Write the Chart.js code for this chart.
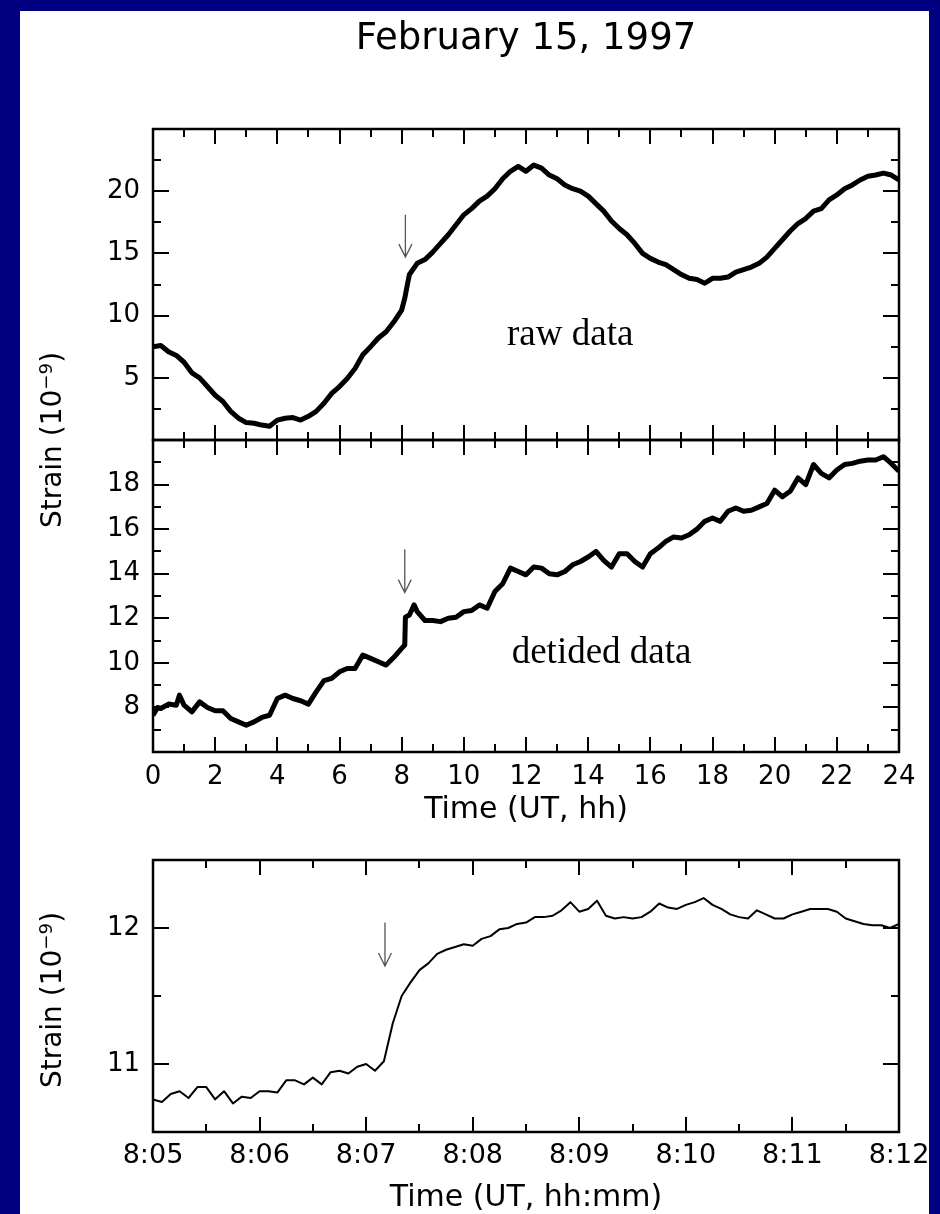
<!DOCTYPE html>
<html>
<head>
<meta charset="utf-8">
<title>February 15, 1997 - strain</title>
<script src="https://cdn.jsdelivr.net/npm/chart.js@4.4.1/dist/chart.umd.min.js"></script>
<style>
  html, body { margin: 0; padding: 0; }
  body {
    width: 940px; height: 1214px; position: relative; overflow: hidden;
    background: #000080; font-family: "DejaVu Sans", sans-serif; color: #000;
  }
  #sheet { position: absolute; left: 20px; top: 11px; width: 909px; height: 1203px; background: #fff; }
  canvas { position: absolute; left: 0; }
  .txt { position: absolute; line-height: 1; white-space: nowrap; text-align: center; }
  .ytitle {
    position: absolute; width: 400px; height: 28px; line-height: 28px; font-size: 28px;
    text-align: center; white-space: nowrap; transform: rotate(-90deg);
  }
  sup { font-size: 0.65em; line-height: 0; vertical-align: 0.5em; }
</style>
</head>
<body>
<div id="sheet"></div>
<canvas id="rawChart" width="940" height="460" style="top:0px"></canvas>
<canvas id="detidedChart" width="940" height="380" style="top:420px"></canvas>
<canvas id="zoomChart" width="940" height="374" style="top:840px"></canvas>

<div class="txt" style="left:176px; width:700px; top:18px; font-size:37px;">February 15, 1997</div>
<div class="ytitle" style="left:-148px; top:426px;">Strain (10<sup>−9</sup>)</div>
<div class="txt" style="left:226px; width:600px; top:793px; font-size:30px;">Time (UT, hh)</div>
<div class="ytitle" style="left:-148px; top:986px;">Strain (10<sup>−9</sup>)</div>
<div class="txt" style="left:226px; width:600px; top:1181px; font-size:30px;">Time (UT, hh:mm)</div>

<script>
// ---- data ----
// raw strain (10^-9) against UT hours
const rawHours = [0, 0.25, 0.5, 0.75, 1, 1.25, 1.5, 1.75, 2, 2.25, 2.5, 2.75, 3, 3.25, 3.5, 3.75,
  4, 4.25, 4.5, 4.75, 5, 5.25, 5.5, 5.75, 6, 6.25, 6.5, 6.75, 7, 7.25, 7.5, 7.75, 8, 8.1, 8.2, 8.25,
  8.5, 8.75, 9, 9.25, 9.5, 9.75, 10, 10.25, 10.5, 10.75, 11, 11.25, 11.5, 11.75, 12, 12.25, 12.5,
  12.75, 13, 13.25, 13.5, 13.75, 14, 14.25, 14.5, 14.75, 15, 15.25, 15.5, 15.75, 16, 16.25, 16.5,
  16.75, 17, 17.25, 17.5, 17.75, 18, 18.25, 18.5, 18.75, 19, 19.25, 19.5, 19.75, 20, 20.25, 20.5,
  20.75, 21, 21.25, 21.5, 21.75, 22, 22.25, 22.5, 22.75, 23, 23.25, 23.5, 23.75, 24];
const rawStrain = [7.5, 7.6, 7.1, 6.8, 6.25, 5.4, 5.0, 4.3, 3.6, 3.1, 2.3, 1.75, 1.4, 1.35, 1.2, 1.1,
  1.6, 1.75, 1.8, 1.6, 1.9, 2.3, 2.95, 3.75, 4.3, 4.95, 5.75, 6.85, 7.5, 8.2, 8.7, 9.5, 10.45, 11.4, 12.7, 13.3,
  14.2, 14.5, 15.1, 15.8, 16.5, 17.3, 18.1, 18.6, 19.2, 19.6, 20.2, 21.0, 21.6, 22.0, 21.6, 22.1, 21.85,
  21.3, 21.0, 20.5, 20.2, 20.0, 19.6, 19.0, 18.4, 17.6, 17.0, 16.5, 15.8, 15.0, 14.6, 14.3, 14.1,
  13.7, 13.3, 13.0, 12.9, 12.6, 13.0, 13.0, 13.1, 13.5, 13.7, 13.9, 14.2, 14.7, 15.4, 16.1, 16.8,
  17.4, 17.8, 18.4, 18.6, 19.3, 19.7, 20.2, 20.5, 20.9, 21.2, 21.3, 21.45, 21.3, 20.9];

// detided strain
const detHours = [0, 0.15, 0.25, 0.5, 0.75, 0.85, 1, 1.25, 1.5, 1.75, 2, 2.25, 2.5, 2.75, 3, 3.25, 3.5, 3.75,
  4, 4.25, 4.5, 4.75, 5, 5.25, 5.5, 5.75, 6, 6.25, 6.5, 6.75, 7, 7.25, 7.5, 7.75, 8, 8.1, 8.12, 8.25, 8.4,
  8.5, 8.75, 9, 9.25, 9.5, 9.75, 10, 10.25, 10.5, 10.75, 11, 11.25, 11.5, 11.75, 12, 12.25, 12.5,
  12.75, 13, 13.25, 13.5, 13.75, 14, 14.25, 14.5, 14.75, 15, 15.25, 15.5, 15.75, 16, 16.25, 16.5,
  16.75, 17, 17.25, 17.5, 17.75, 18, 18.25, 18.5, 18.75, 19, 19.25, 19.5, 19.75, 20, 20.25, 20.5,
  20.75, 21, 21.25, 21.5, 21.75, 22, 22.25, 22.5, 22.75, 23, 23.25, 23.5, 23.75, 24];
const detStrain = [7.65, 8.0, 7.95, 8.15, 8.1, 8.55, 8.1, 7.8, 8.25, 8.0, 7.85, 7.85, 7.5, 7.35, 7.2, 7.35, 7.55, 7.65,
  8.4, 8.55, 8.4, 8.3, 8.15, 8.7, 9.2, 9.3, 9.6, 9.75, 9.75, 10.35, 10.2, 10.05, 9.9, 10.25, 10.65, 10.8, 12.05, 12.15, 12.6,
  12.3, 11.9, 11.9, 11.85, 12.0, 12.05, 12.3, 12.35, 12.6, 12.45, 13.2, 13.55, 14.25, 14.1, 13.95, 14.3, 14.25,
  14.0, 13.95, 14.1, 14.4, 14.55, 14.75, 15.0, 14.6, 14.3, 14.9, 14.9, 14.55, 14.3, 14.9, 15.15, 15.45,
  15.65, 15.6, 15.75, 16.0, 16.35, 16.5, 16.35, 16.8, 16.95, 16.8, 16.85, 17.0, 17.15, 17.75, 17.45, 17.7,
  18.3, 18.0, 18.9, 18.5, 18.3, 18.65, 18.9, 18.95, 19.05, 19.1, 19.1, 19.25, 18.95, 18.6];

// close-up, seconds after 8:05 UT
const zoomSeconds = [0, 5, 10, 15, 20, 25, 30, 35, 40, 45, 50, 55, 60, 65, 70, 75, 80, 85, 90, 95,
  100, 105, 110, 115, 120, 125, 130, 135, 140, 145, 150, 155, 160, 165, 170, 175, 180, 185, 190, 195,
  200, 205, 210, 215, 220, 225, 230, 235, 240, 245, 250, 255, 260, 265, 270, 275, 280, 285, 290, 295,
  300, 305, 310, 315, 320, 325, 330, 335, 340, 345, 350, 355, 360, 365, 370, 375, 380, 385, 390, 395,
  400, 405, 410, 415, 420];
const zoomStrain = [10.74, 10.72, 10.78, 10.80, 10.75, 10.83, 10.83, 10.74, 10.80, 10.71, 10.76, 10.75, 10.80, 10.80, 10.79, 10.88, 10.88, 10.85, 10.90, 10.85,
  10.94, 10.95, 10.93, 10.98, 11.0, 10.95, 11.02, 11.30, 11.50, 11.60, 11.69, 11.74, 11.81, 11.84, 11.86, 11.88, 11.87, 11.92, 11.94, 11.99,
  12.0, 12.03, 12.04, 12.08, 12.08, 12.09, 12.13, 12.19, 12.12, 12.14, 12.20, 12.09, 12.07, 12.08, 12.07, 12.08, 12.12, 12.18, 12.15, 12.14,
  12.17, 12.19, 12.22, 12.17, 12.14, 12.10, 12.08, 12.07, 12.13, 12.10, 12.07, 12.07, 12.10, 12.12, 12.14, 12.14, 12.14, 12.12, 12.07, 12.05,
  12.03, 12.02, 12.02, 12.0, 12.03];

// ---- axes ----
const hourLabels = [0, 2, 4, 6, 8, 10, 12, 14, 16, 18, 20, 22, 24];
const hourMinor = [1, 3, 5, 7, 9, 11, 13, 15, 17, 19, 21, 23];
const rawYLabels = [5, 10, 15, 20];
const rawYMajor = [0, 5, 10, 15, 20, 25];
const rawYMinor = [2.5, 7.5, 12.5, 17.5, 22.5];
const detYLabels = [8, 10, 12, 14, 16, 18];
const detYMajor = [6, 8, 10, 12, 14, 16, 18, 20];
const detYMinor = [7, 9, 11, 13, 15, 17, 19];
const zoomYLabels = [11, 12];
const zoomYMinor = [10.5, 11.5, 12.5];
const zoomXSeconds = [0, 60, 120, 180, 240, 300, 360, 420];
const zoomXLabels = ['8:05', '8:06', '8:07', '8:08', '8:09', '8:10', '8:11', '8:12'];
const zoomXMinor = [30, 90, 150, 210, 270, 330, 390];

// box round the plot area with inward ticks on all four sides
const framePlugin = {
  id: 'frame',
  afterDatasetsDraw(chart, args, opts) {
    const { ctx, chartArea: a, scales } = chart;
    const x = scales.x, y = scales.y;
    ctx.save();
    ctx.strokeStyle = '#000';
    ctx.lineWidth = 2;
    ctx.beginPath();
    const xTicks = (vals, len) => vals.forEach(v => {
      const px = Math.round(x.getPixelForValue(v));
      ctx.moveTo(px, a.bottom); ctx.lineTo(px, a.bottom - len);
      ctx.moveTo(px, a.top); ctx.lineTo(px, a.top + len);
    });
    const yTicks = (vals, len) => vals.forEach(v => {
      const py = Math.round(y.getPixelForValue(v));
      ctx.moveTo(a.left, py); ctx.lineTo(a.left + len, py);
      ctx.moveTo(a.right, py); ctx.lineTo(a.right - len, py);
    });
    xTicks(opts.xMajor, 15);
    xTicks(opts.xMinor, 8);
    yTicks(opts.yMajor, 16);
    yTicks(opts.yMinor, 8);
    ctx.stroke();
    ctx.lineWidth = 2.5;
    ctx.strokeRect(a.left, a.top, a.right - a.left, a.bottom - a.top);
    ctx.restore();
  }
};

// arrow marking the event, plus the panel caption
const notePlugin = {
  id: 'note',
  afterDatasetsDraw(chart, args, opts) {
    const { ctx } = chart;
    const x = chart.scales.x, y = chart.scales.y;
    ctx.save();
    if (opts.arrow) {
      const px = x.getPixelForValue(opts.arrow.x);
      const y0 = y.getPixelForValue(opts.arrow.from);
      const y1 = y.getPixelForValue(opts.arrow.to);
      ctx.strokeStyle = '#555';
      ctx.lineWidth = 1.3;
      ctx.beginPath();
      ctx.moveTo(px, y0); ctx.lineTo(px, y1);
      ctx.moveTo(px - 6.5, y1 - 13); ctx.lineTo(px, y1); ctx.lineTo(px + 6.5, y1 - 13);
      ctx.stroke();
    }
    if (opts.caption) {
      ctx.fillStyle = '#000';
      ctx.font = '37px "Liberation Serif", "Times New Roman", serif';
      ctx.textBaseline = 'alphabetic';
      ctx.textAlign = 'left';
      ctx.fillText(opts.caption.text, x.getPixelForValue(opts.caption.x), y.getPixelForValue(opts.caption.y));
    }
    ctx.restore();
  }
};

const fontFamily = '"DejaVu Sans", sans-serif';

function makeChart(id, xs, ys, opt) {
  const points = xs.map((v, i) => ({ x: v, y: ys[i] }));
  return new Chart(document.getElementById(id), {
    type: 'line',
    data: {
      datasets: [{
        data: points,
        borderColor: '#000',
        borderWidth: opt.lineWidth,
        borderJoinStyle: 'round',
        pointRadius: 0,
        tension: 0,
        fill: false
      }]
    },
    plugins: [framePlugin, notePlugin],
    options: {
      responsive: false,
      animation: false,
      parsing: false,
      events: [],
      layout: { padding: opt.padding },
      scales: {
        x: {
          type: 'linear',
          display: opt.showX,
          min: opt.xMin,
          max: opt.xMax,
          grid: { display: false, drawTicks: false },
          border: { display: false },
          afterBuildTicks: s => { s.ticks = opt.xLabels.map(v => ({ value: v })); },
          afterFit: s => { s.height = opt.xHeight; s.paddingLeft = 0; s.paddingRight = 0; },
          ticks: {
            color: '#000',
            font: { family: fontFamily, size: opt.xFontSize },
            padding: opt.xPad,
            autoSkip: false,
            maxRotation: 0,
            minRotation: 0,
            callback: opt.xText
          }
        },
        y: {
          type: 'linear',
          min: opt.yMin,
          max: opt.yMax,
          grid: { display: false, drawTicks: false },
          border: { display: false },
          afterBuildTicks: s => { s.ticks = opt.yLabels.map(v => ({ value: v })); },
          afterFit: s => { s.width = 153; s.paddingTop = 0; s.paddingBottom = 0; },
          ticks: { color: '#000', font: { family: fontFamily, size: 26 }, padding: 13, autoSkip: false }
        }
      },
      plugins: {
        legend: { display: false },
        tooltip: { enabled: false },
        frame: opt.frame,
        note: opt.note
      }
    }
  });
}

// raw data panel
makeChart('rawChart', rawHours, rawStrain, {
  lineWidth: 5,
  padding: { top: 129, right: 41, bottom: 20, left: 0 },
  showX: false, xMin: 0, xMax: 24, xLabels: hourLabels, xHeight: 0, xPad: 0, xFontSize: 26,
  yMin: 0, yMax: 25, yLabels: rawYLabels,
  frame: { xMajor: hourLabels, xMinor: hourMinor, yMajor: rawYMajor, yMinor: rawYMinor },
  note: { arrow: { x: 8.12, from: 18.1, to: 14.7 }, caption: { text: 'raw data', x: 11.39, y: 7.64 } }
});

// detided panel
makeChart('detidedChart', detHours, detStrain, {
  lineWidth: 5,
  padding: { top: 20, right: 41, bottom: 0, left: 0 },
  showX: true, xMin: 0, xMax: 24, xLabels: hourLabels, xHeight: 48, xPad: 10, xFontSize: 26,
  yMin: 6, yMax: 20, yLabels: detYLabels,
  frame: { xMajor: hourLabels, xMinor: hourMinor, yMajor: detYMajor, yMinor: detYMinor },
  note: { arrow: { x: 8.1, from: 15.1, to: 13.15 }, caption: { text: 'detided data', x: 11.54, y: 10.0 } }
});

// close-up around the step
makeChart('zoomChart', zoomSeconds, zoomStrain, {
  lineWidth: 2,
  padding: { top: 20, right: 41, bottom: 0, left: 0 },
  showX: true, xMin: 0, xMax: 420, xLabels: zoomXSeconds, xHeight: 82, xPad: 8, xFontSize: 27,
  xText: (v, i) => zoomXLabels[i],
  yMin: 10.5, yMax: 12.5, yLabels: zoomYLabels,
  frame: { xMajor: zoomXSeconds, xMinor: zoomXMinor, yMajor: zoomYLabels, yMinor: zoomYMinor },
  note: { arrow: { x: 130.6, from: 12.04, to: 11.72 } }
});
</script>
</body>
</html>
